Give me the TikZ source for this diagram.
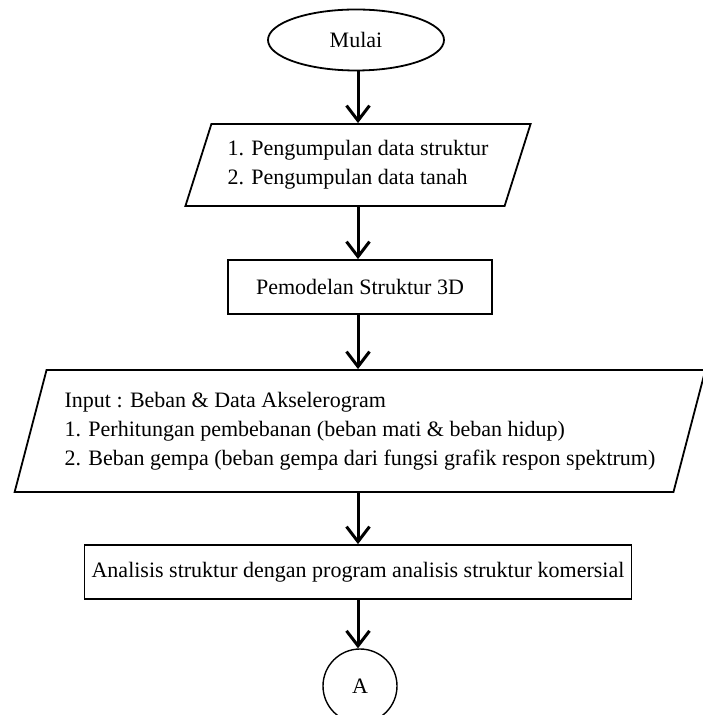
\documentclass[tikz,border=0pt]{standalone}
\usepackage{fontspec}
\setmainfont{Liberation Serif}
\usepackage{tikz}
\usetikzlibrary{shapes.geometric}
\usetikzlibrary{arrows.meta}
\tikzset{every node/.style={font=\fontsize{11}{14.5}\selectfont},
 terminal/.style={draw, ellipse, line width=0.9pt, minimum width=88pt, minimum height=30.5pt, inner sep=0pt},
 io/.style={draw, trapezium, trapezium stretches=true, line width=0.9pt, align=left},
 proses/.style={draw, rectangle, line width=0.9pt, minimum height=27pt},
 konektor/.style={draw, circle, line width=0.7pt, minimum size=37pt, inner sep=0pt},
 panah/.style={line width=1.5pt, -{Straight Barb[length=7.5pt,width=11.5pt]}},
 }

\begin{document}
\begin{tikzpicture}[x=0.5pt, y=-0.5pt]
        \useasboundingbox (0,0) rectangle (702,715);
        \node[terminal] (mulai) at (356,40) {Mulai};
        \node[io, trapezium left angle=68.7, trapezium right angle=111.3,
              minimum width=173pt, minimum height=41pt] (data) at (358,165)
              {1. Pengumpulan data struktur\\2. Pengumpulan data tanah};
        \node[proses, minimum width=132pt] (model) at (360,287) {Pemodelan Struktur 3D};
        \node[io, trapezium left angle=71.4, trapezium right angle=108.6,
              minimum width=347pt, minimum height=61pt] (input) at (360,431)
              {Input : Beban \& Data Akselerogram\\
               1. Perhitungan pembebanan (beban mati \& beban hidup)\\
               2. Beban gempa (beban gempa dari fungsi grafik respon spektrum)};
        \node[proses, minimum width=273.5pt] (analisis) at (358,572)
              {Analisis struktur dengan program analisis struktur komersial};
        \node[konektor] (A) at (360,686) {A};
        \foreach \a/\b in {mulai/data, data/model, model/input, input/analisis, analisis/A} {
            \draw[panah] (\a.south -| 358,0) -- (358,0 |- \b.north);
        }
    \end{tikzpicture}
\end{document}
